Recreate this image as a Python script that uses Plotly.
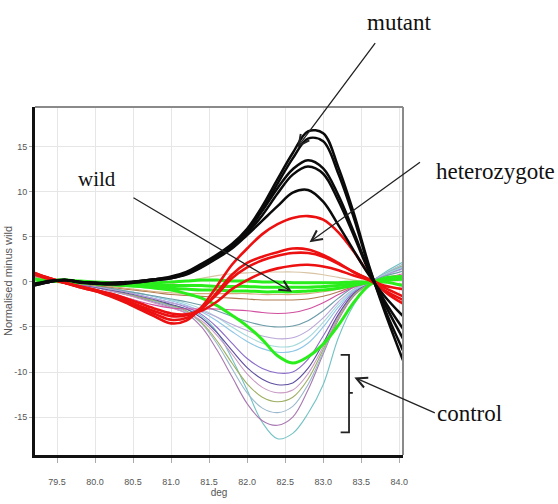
import plotly.graph_objects as go

# ---------------- data ----------------
X = [79.2, 79.4, 79.6, 79.8, 80.0, 80.2, 80.4, 80.6, 80.8, 81.0, 81.2, 81.4, 81.6,
     81.8, 82.0, 82.2, 82.4, 82.6, 82.8, 83.0, 83.2, 83.4, 83.6, 83.8, 84.05]

# control samples (thin coloured lines)
control_colors = ['#74c2c4', '#a878b0', '#9ab8cc', '#9caf62', '#c99ac4', '#5e4e9e', '#8a6cc8',
                  '#8ec6e6', '#a6d8dc', '#b9a8d8', '#6c9ca8', '#b07a50', '#d4a878', '#d8c4a4', '#d050a0']
control_1 = [0.8, 0.3, 0.0, -0.3, -0.6, -1.0, -1.4, -1.8, -2.2, -2.6, -3.0, -3.8, -5.5, -8.5, -12.0, -15.6, -17.4, -16.8, -14.6, -11.4, -6.2, -2.6, -0.3, 1.0, 2.2]
control_2 = [0.8, 0.3, 0.0, -0.3, -0.6, -1.0, -1.4, -1.8, -2.3, -2.8, -3.5, -5.0, -7.5, -10.5, -13.5, -15.4, -15.9, -15.0, -12.0, -8.0, -4.2, -1.6, -0.2, 0.8, 1.8]
control_3 = [0.7, 0.3, 0.0, -0.3, -0.6, -0.9, -1.3, -1.7, -2.2, -2.7, -3.3, -4.6, -6.8, -9.6, -12.3, -14.0, -14.5, -13.8, -11.4, -7.8, -4.0, -1.4, -0.1, 0.9, 2.0]
control_4 = [0.8, 0.3, 0.0, -0.3, -0.6, -0.9, -1.3, -1.7, -2.1, -2.6, -3.2, -4.5, -6.5, -9.0, -11.3, -12.8, -13.3, -12.8, -10.8, -7.5, -4.0, -1.5, -0.2, 0.8, 1.8]
control_5 = [0.9, 0.3, 0.0, -0.3, -0.6, -1.0, -1.4, -1.9, -2.4, -2.9, -3.4, -4.3, -5.9, -8.0, -10.2, -11.7, -12.3, -12.0, -10.2, -7.2, -3.8, -1.3, -0.1, 0.7, 1.6]
control_6 = [0.6, 0.2, 0.0, -0.3, -0.6, -0.9, -1.2, -1.6, -2.0, -2.5, -3.0, -4.0, -5.6, -7.6, -9.5, -10.8, -11.4, -11.2, -9.6, -6.8, -3.6, -1.3, -0.1, 0.8, 1.6]
control_7 = [0.6, 0.2, 0.0, -0.3, -0.5, -0.8, -1.1, -1.5, -1.9, -2.3, -2.8, -3.6, -5.0, -6.8, -8.5, -9.6, -10.1, -10.0, -8.6, -6.0, -3.2, -1.1, -0.1, 0.7, 1.5]
control_8 = [0.5, 0.2, 0.0, -0.2, -0.4, -0.7, -1.0, -1.3, -1.7, -2.1, -2.6, -3.3, -4.3, -5.5, -6.6, -7.4, -7.8, -7.7, -6.8, -5.0, -2.8, -1.0, -0.1, 0.8, 1.7]
control_9 = [0.5, 0.2, 0.0, -0.2, -0.4, -0.7, -1.0, -1.3, -1.6, -2.0, -2.4, -3.0, -3.9, -5.0, -6.0, -6.8, -7.2, -7.1, -6.2, -4.5, -2.5, -0.9, -0.1, 0.8, 1.6]
control_10 = [0.6, 0.2, 0.0, -0.2, -0.5, -0.8, -1.1, -1.5, -1.9, -2.3, -2.7, -3.2, -3.9, -4.7, -5.4, -6.0, -6.3, -6.2, -5.4, -4.0, -2.2, -0.8, -0.1, 0.7, 1.4]
control_11 = [0.5, 0.2, 0.0, -0.2, -0.4, -0.7, -1.0, -1.3, -1.6, -1.9, -2.2, -2.6, -3.2, -3.8, -4.4, -4.8, -5.0, -4.9, -4.3, -3.2, -1.8, -0.6, 0.0, 0.6, 1.2]
control_12 = [0.5, 0.2, 0.0, -0.2, -0.4, -0.6, -0.8, -1.0, -1.2, -1.4, -1.5, -1.6, -1.7, -1.8, -1.9, -2.0, -2.0, -2.0, -1.9, -1.6, -1.1, -0.5, -0.1, 0.3, 0.6]
control_13 = [0.5, 0.2, 0.0, -0.2, -0.3, -0.5, -0.7, -0.9, -1.1, -1.2, -1.3, -1.3, -1.3, -1.3, -1.3, -1.4, -1.4, -1.4, -1.3, -1.1, -0.8, -0.4, -0.1, 0.2, 0.4]
control_14 = [0.4, 0.1, 0.0, -0.2, -0.3, -0.4, -0.5, -0.5, -0.4, -0.2, 0.1, 0.4, 0.7, 0.9, 1.0, 1.1, 1.1, 1.1, 1.0, 0.8, 0.5, 0.2, 0.0, -0.1, -0.2]
control_15 = [1.0, 0.4, 0.0, -0.4, -0.8, -1.2, -1.7, -2.2, -2.6, -2.9, -3.0, -3.0, -3.0, -3.1, -3.2, -3.4, -3.5, -3.4, -3.0, -2.3, -1.4, -0.6, -0.1, 0.4, 0.9]

# wild type (thick green)
wild_1 = [-0.2, 0.1, 0.2, 0.1, 0.0, -0.1, -0.2, -0.2, -0.1, 0.0, 0.1, 0.2, 0.2, 0.1, 0.1, 0.0, 0.0, -0.1, -0.1, -0.1, -0.1, 0.0, 0.0, 0.3, 0.6]
wild_2 = [-0.2, 0.1, 0.2, 0.0, -0.1, -0.2, -0.3, -0.4, -0.4, -0.4, -0.4, -0.4, -0.5, -0.5, -0.5, -0.6, -0.6, -0.6, -0.6, -0.5, -0.4, -0.2, 0.0, 0.2, 0.3]
wild_3 = [-0.2, 0.1, 0.1, 0.0, -0.2, -0.3, -0.4, -0.5, -0.6, -0.7, -0.8, -0.9, -0.9, -1.0, -1.0, -1.1, -1.1, -1.1, -1.0, -0.9, -0.7, -0.4, -0.1, 0.0, -0.4]
wild_4 = [0.3, 0.1, 0.0, -0.1, -0.2, -0.3, -0.4, -0.5, -0.7, -0.9, -1.3, -1.8, -2.6, -3.7, -4.9, -6.4, -8.2, -9.0, -8.3, -6.9, -4.8, -2.3, -0.4, 0.4, 0.6]

# heterozygote (thick red)
het_1 = [1.0, 0.4, -0.1, -0.6, -1.0, -1.6, -2.3, -3.1, -3.9, -4.6, -4.3, -2.8, -0.5, 1.9, 3.7, 5.3, 6.4, 7.1, 7.3, 6.9, 5.5, 3.4, 0.9, -1.0, -2.4]
het_2 = [0.9, 0.4, -0.1, -0.6, -1.0, -1.5, -2.2, -2.9, -3.6, -4.2, -4.0, -3.0, -1.2, 0.8, 2.1, 2.8, 3.3, 3.7, 3.6, 3.0, 2.1, 1.1, 0.3, -0.4, -0.8]
het_3 = [0.8, 0.3, -0.1, -0.5, -0.9, -1.4, -2.0, -2.7, -3.3, -3.8, -3.7, -2.9, -1.4, 0.4, 1.6, 2.4, 2.9, 3.2, 3.2, 2.8, 2.0, 1.1, 0.3, -0.6, -1.6]
het_4 = [1.0, 0.4, -0.1, -0.5, -0.9, -1.3, -1.8, -2.4, -3.0, -3.5, -3.6, -3.2, -2.2, -0.8, 0.2, 1.0, 1.5, 1.8, 1.9, 1.7, 1.3, 0.7, 0.2, -0.9, -2.0]

# mutant (thick black)
mut_1 = [-0.3, 0.1, 0.2, 0.0, -0.1, -0.2, -0.1, 0.1, 0.3, 0.6, 1.1, 2.0, 3.0, 4.2, 5.9, 8.4, 11.4, 14.3, 16.7, 16.5, 12.7, 7.7, 1.9, -3.1, -8.7]
mut_2 = [-0.4, 0.0, 0.2, 0.0, -0.1, -0.2, -0.1, 0.1, 0.3, 0.5, 1.0, 1.9, 2.9, 4.0, 5.6, 8.0, 10.9, 13.7, 15.9, 15.6, 12.0, 7.2, 1.7, -2.8, -7.6]
mut_3 = [-0.2, 0.1, 0.2, 0.0, -0.1, -0.1, 0.0, 0.1, 0.3, 0.5, 1.0, 1.8, 2.8, 4.0, 5.7, 7.9, 10.4, 12.5, 13.5, 12.6, 9.6, 5.6, 1.3, -2.3, -6.3]
mut_4 = [-0.3, 0.0, 0.2, 0.0, -0.2, -0.2, -0.1, 0.0, 0.2, 0.4, 0.9, 1.7, 2.7, 3.8, 5.4, 7.4, 9.8, 11.9, 12.8, 12.0, 9.0, 5.2, 1.2, -2.0, -5.2]
mut_5 = [-0.4, 0.0, 0.2, -0.1, -0.2, -0.3, -0.2, 0.0, 0.2, 0.4, 0.8, 1.6, 2.6, 3.7, 5.2, 6.8, 8.4, 9.9, 10.2, 8.9, 6.3, 3.5, 0.8, -1.5, -3.8]

x_ticks = [79.5, 80.0, 80.5, 81.0, 81.5, 82.0, 82.5, 83.0, 83.5, 84.0]
x_tick_text = ['79.5', '80.0', '80.5', '81.0', '81.5', '82.0', '82.5', '83.0', '83.5', '84.0']
y_ticks = [-15, -10, -5, 0, 5, 10, 15]
y_tick_text = ['-15', '-10', '-5', '0', '5', '10', '15']

controls = [control_1, control_2, control_3, control_4, control_5, control_6, control_7, control_8,
            control_9, control_10, control_11, control_12, control_13, control_14, control_15]
wilds = [wild_1, wild_2, wild_3, wild_4]
hets = [het_1, het_2, het_3, het_4]
mutants = [mut_1, mut_2, mut_3, mut_4, mut_5]

# ---------------- figure ----------------
fig = go.Figure()
for ys, col in zip(controls, control_colors):
    fig.add_trace(go.Scatter(x=X, y=ys, mode='lines', line=dict(color=col, width=1.1, shape='spline')))
for ys in wilds:
    fig.add_trace(go.Scatter(x=X, y=ys, mode='lines', line=dict(color='#2aee1c', width=3, shape='spline')))
for ys in hets:
    fig.add_trace(go.Scatter(x=X, y=ys, mode='lines', line=dict(color='#ec1010', width=2.6, shape='spline')))
for ys in mutants:
    fig.add_trace(go.Scatter(x=X, y=ys, mode='lines', line=dict(color='#0a0a0a', width=2.5, shape='spline')))

W, H = 558, 504
L, R, T, B = 35, 403, 107, 455


def px(xp):
    return (xp - L) / (R - L)


def py(yp):
    return (B - yp) / (B - T)


serif = 'Liberation Serif, Times New Roman, serif'
ann = []
for txt, xx, yy, anchor, size in [('mutant', 399, 23, 'center', 23),
                                  ('heterozygote', 434, 171, 'left', 23),
                                  ('wild', 97, 179, 'center', 21),
                                  ('control', 469, 413, 'center', 23)]:
    ann.append(dict(text=txt, xref='paper', yref='paper', x=px(xx), y=py(yy), xanchor=anchor,
                    yanchor='middle', showarrow=False, font=dict(family=serif, size=size, color='#111')))

for tx, ty, dx, dy in [(82.66, 14.9, 79, -106), (82.82, 4.4, 112, -81),
                       (82.59, -1.1, -160, -95), (83.41, -10.6, 82, 36)]:
    ann.append(dict(text='', x=tx, y=ty, xref='x', yref='y', ax=dx, ay=dy, axref='pixel', ayref='pixel',
                    showarrow=True, arrowhead=5, arrowsize=1.6, arrowwidth=1.3, arrowcolor='#222',
                    standoff=0, startstandoff=0))

shapes = [
    dict(type='line', xref='paper', yref='paper', x0=0, x1=1, y0=1, y1=1, line=dict(color='#8a8a8a', width=2)),
    dict(type='line', xref='paper', yref='paper', x0=1, x1=1, y0=0, y1=1, line=dict(color='#8a8a8a', width=2)),
    dict(type='path', xref='x', yref='y',
         path='M 83.23,-8.1 L 83.34,-8.1 L 83.34,-16.7 L 83.23,-16.7 M 83.34,-12.3 L 83.39,-12.3',
         line=dict(color='#222', width=1.8)),
]

fig.update_layout(
    width=W, height=H, margin=dict(l=L, r=W - R, t=T, b=H - B),
    plot_bgcolor='white', paper_bgcolor='white', showlegend=False,
    annotations=ann, shapes=shapes,
    xaxis=dict(range=[79.21, 84.05], tickvals=x_ticks, ticktext=x_tick_text,
               showgrid=True, gridcolor='#e6e6e6', gridwidth=1, zeroline=False,
               showline=True, linecolor='#111', linewidth=3,
               ticks='outside', ticklen=5, tickcolor='#aaa', ticklabelstandoff=11,
               tickfont=dict(family='Arial, Liberation Sans, sans-serif', size=9, color='#555'),
               title=dict(text='deg', standoff=3, font=dict(family='Arial, Liberation Sans, sans-serif', size=10, color='#555')),
               automargin=False),
    yaxis=dict(range=[-19.2, 19.4], tickvals=y_ticks, ticktext=y_tick_text,
               showgrid=True, gridcolor='#e6e6e6', gridwidth=1, zeroline=False,
               showline=True, linecolor='#111', linewidth=3,
               ticks='outside', ticklen=3, tickcolor='#aaa',
               tickfont=dict(family='Arial, Liberation Sans, sans-serif', size=9, color='#555'),
               title=dict(text='Normalised minus wild', standoff=0, font=dict(family='Arial, Liberation Sans, sans-serif', size=11, color='#555')),
               automargin=False),
)

fig.write_html("out.html")
